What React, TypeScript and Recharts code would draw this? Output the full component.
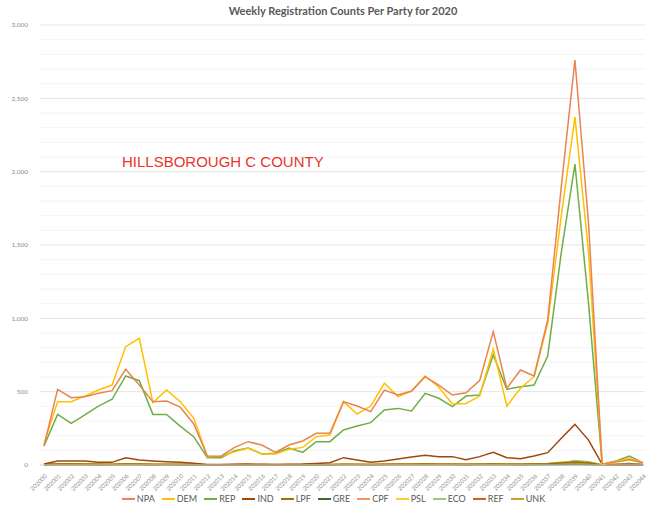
import { LineChart, Line, XAxis, YAxis, CartesianGrid, ReferenceLine } from 'recharts';

const weeks = [
  '202000', '202001', '202002', '202003', '202004', '202005', '202006', '202007', '202008', '202009',
  '202010', '202011', '202012', '202013', '202014', '202015', '202016', '202017', '202018', '202019',
  '202020', '202021', '202022', '202023', '202024', '202025', '202026', '202027', '202028', '202029',
  '202030', '202031', '202032', '202033', '202034', '202035', '202036', '202037', '202038', '202039',
  '202040', '202041', '202042', '202043', '202044',
];

const npa = [130, 516, 459, 466, 489, 507, 652, 545, 432, 436, 395, 280, 61, 60, 120, 159, 136, 86, 136, 164,
  216, 216, 432, 402, 364, 511, 477, 504, 602, 545, 477, 493, 575, 909, 523, 648, 607, 989, 1900, 2761,
  1650, 5, 20, 36, 15];
const dem = [145, 432, 432, 470, 511, 545, 807, 864, 425, 511, 432, 320, 57, 60, 91, 116, 75, 75, 107, 120,
  193, 204, 432, 348, 402, 557, 466, 504, 607, 530, 416, 420, 470, 789, 402, 523, 602, 966, 1700, 2374,
  1450, 5, 25, 45, 15];
const rep = [130, 345, 284, 341, 402, 448, 607, 575, 345, 345, 265, 193, 50, 50, 97, 116, 75, 80, 116, 86,
  159, 159, 239, 266, 289, 375, 386, 368, 489, 455, 398, 470, 477, 750, 516, 534, 545, 743, 1450, 2052,
  1100, 5, 27, 61, 15];
const ind = [7, 27, 27, 27, 18, 18, 50, 34, 27, 22, 18, 12, 4, 3, 5, 6, 5, 4, 5, 6,
  10, 16, 50, 34, 18, 27, 41, 55, 66, 57, 57, 36, 57, 86, 50, 43, 61, 84, 182, 277,
  170, 5, 3, 5, 3];
const lpf = [3, 6, 6, 5, 5, 4, 6, 5, 4, 4, 4, 3, 1, 1, 2, 2, 1, 1, 2, 2,
  2, 3, 4, 4, 3, 4, 5, 5, 6, 5, 5, 4, 5, 7, 5, 5, 6, 8, 14, 20,
  15, 0, 2, 3, 1];
const gre = [0, 1, 1, 1, 0, 1, 1, 1, 0, 1, 0, 0, 0, 0, 0, 0, 0, 0, 0, 0,
  0, 0, 1, 1, 0, 1, 1, 1, 1, 1, 1, 0, 1, 1, 1, 0, 1, 1, 2, 3,
  2, 0, 0, 0, 0];
const cpf = [1, 2, 2, 2, 1, 2, 3, 2, 2, 1, 1, 1, 0, 0, 0, 1, 0, 0, 1, 1,
  1, 1, 2, 2, 1, 2, 2, 2, 3, 2, 2, 2, 2, 3, 2, 2, 3, 4, 6, 8,
  5, 0, 1, 1, 0];
const psl = [0, 1, 1, 1, 1, 1, 2, 1, 1, 1, 1, 0, 0, 0, 0, 0, 0, 0, 0, 0,
  1, 1, 1, 1, 1, 1, 1, 1, 2, 1, 1, 1, 1, 2, 1, 1, 2, 2, 4, 5,
  3, 0, 0, 1, 0];
const eco = [1, 2, 2, 2, 2, 2, 3, 2, 2, 2, 2, 1, 0, 0, 1, 1, 1, 1, 1, 1,
  1, 1, 2, 2, 2, 2, 2, 2, 3, 3, 2, 2, 3, 4, 3, 3, 4, 6, 12, 30,
  22, 0, 5, 12, 4];
const ref = [1, 3, 3, 2, 2, 2, 4, 3, 2, 2, 2, 1, 0, 0, 1, 1, 1, 0, 1, 1,
  1, 2, 3, 2, 2, 3, 3, 3, 4, 4, 3, 3, 4, 5, 3, 4, 4, 6, 10, 14,
  9, 0, 1, 2, 1];
const unk = [5, 8, 8, 8, 7, 7, 9, 8, 7, 7, 6, 5, 2, 2, 3, 3, 3, 3, 3, 3,
  4, 4, 6, 6, 5, 6, 6, 7, 8, 7, 7, 6, 7, 9, 7, 7, 8, 10, 18, 25,
  20, 0, 3, 5, 2];

const parties = ['NPA', 'DEM', 'REP', 'IND', 'LPF', 'GRE', 'CPF', 'PSL', 'ECO', 'REF', 'UNK'];
const partyValues = [npa, dem, rep, ind, lpf, gre, cpf, psl, eco, ref, unk];
const colors = ['#EA8350', '#FFC000', '#70AD47', '#9E480E', '#997300', '#43682B', '#F1975A', '#FFCD33', '#9CC77A', '#D2601A', '#C9A227'];

const yTicks = [0, 500, 1000, 1500, 2000, 2500, 3000];
const minorTicks = [100, 200, 300, 400, 600, 700, 800, 900, 1100, 1200, 1300, 1400, 1600, 1700, 1800, 1900,
  2100, 2200, 2300, 2400, 2600, 2700, 2800, 2900];

const data = weeks.map((w, i) => {
  const row: Record<string, string | number> = { week: w };
  parties.forEach((p, j) => {
    row[p] = partyValues[j][i];
  });
  return row;
});

const XTick = (props: any) => {
  const { x, y, payload } = props;
  return (
    <g transform={`translate(${x},${y})`}>
      <text x={0} y={0} dy={5} textAnchor="end" transform="rotate(-45)" fontSize={6} fill="#8c8c8c" fontFamily="Lato">
        {payload.value}
      </text>
    </g>
  );
};

export default function App() {
  return (
    <div style={{ position: 'absolute', left: 0, top: 0, width: 646, height: 514, background: '#fff', fontFamily: 'Lato' }}>
      <div style={{ position: 'absolute', top: 4, left: 0, width: 686, textAlign: 'center', fontSize: 11, fontWeight: 'bold', color: '#595959' }}>
        Weekly Registration Counts Per Party for 2020
      </div>
      <LineChart width={646} height={514} data={data} margin={{ top: 25, right: 1, bottom: 21, left: 0 }}>
        <CartesianGrid vertical={false} stroke="#e4e4e4" />
        {minorTicks.map((v) => (
          <ReferenceLine key={v} y={v} stroke="#f3f3f3" />
        ))}
        <XAxis
          dataKey="week"
          interval={0}
          tick={<XTick />}
          tickLine={false}
          axisLine={{ stroke: '#d9d9d9' }}
          height={28}
          padding={{ left: 4, right: 2 }}
        />
        <YAxis
          width={40}
          domain={[0, 3000]}
          ticks={yTicks}
          tickFormatter={(v: number) => v.toLocaleString('en-US')}
          tick={{ fontSize: 6.5, fill: '#8c8c8c', fontFamily: 'Lato' }}
          tickLine={false}
          axisLine={false}
          tickMargin={6}
        />
        {parties.map((p, j) => (
          <Line key={p} type="linear" dataKey={p} stroke={colors[j]} strokeWidth={1.5} dot={false} isAnimationActive={false} />
        )).reverse()}
      </LineChart>
      <div style={{ position: 'absolute', top: 153, left: 122, fontFamily: 'Liberation Sans', fontSize: 15, color: '#E8362A' }}>
        HILLSBOROUGH C COUNTY
      </div>
      <div style={{ position: 'absolute', top: 493, left: 0, width: 674, display: 'flex', justifyContent: 'center', fontSize: 9, color: '#595959' }}>
        {parties.map((p, j) => (
          <div key={p} style={{ display: 'flex', alignItems: 'center', marginRight: 7 }}>
            <span style={{ display: 'inline-block', width: 13, height: 2, background: colors[j], marginRight: 2 }} />
            <span>{p}</span>
          </div>
        ))}
      </div>
    </div>
  );
}
